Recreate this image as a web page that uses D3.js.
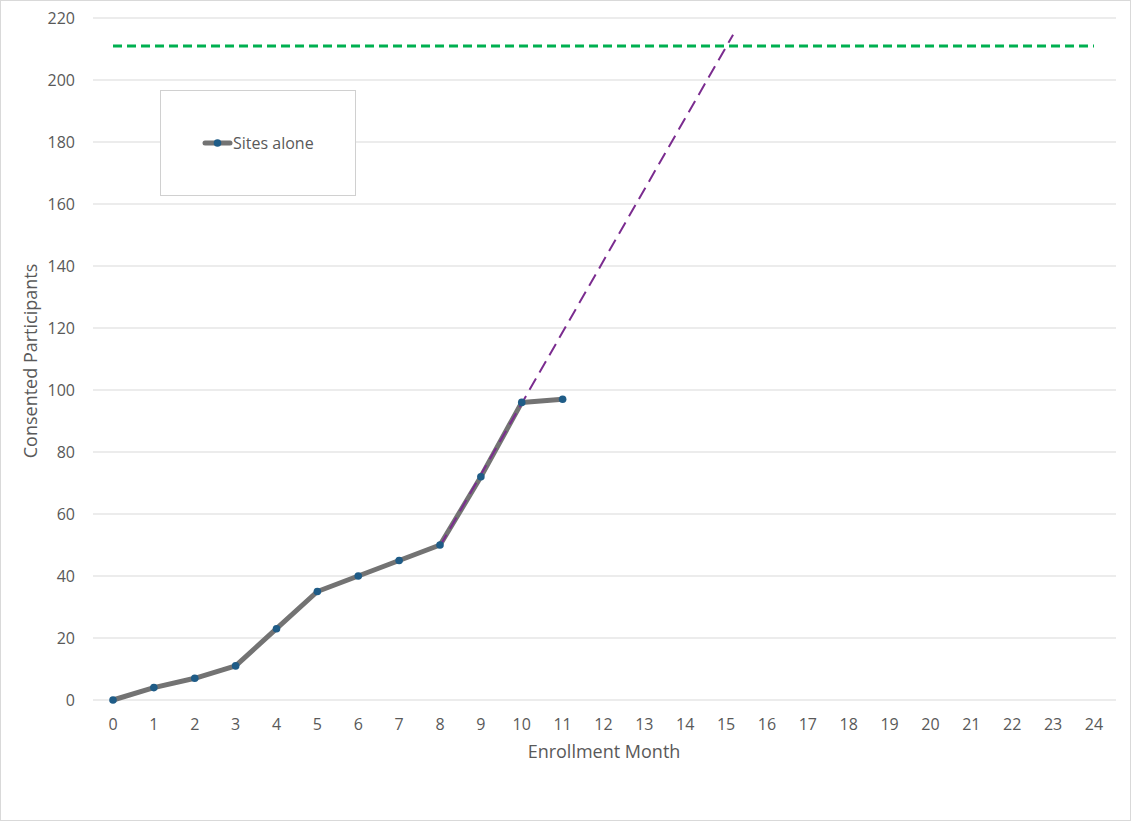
<!DOCTYPE html>
<html><head><meta charset="utf-8">
<script src="https://cdn.jsdelivr.net/npm/d3@7"></script>
<style>body{margin:0;background:#fff;}svg{display:block;font-family:"Open Sans","Liberation Sans",sans-serif;}</style>
</head><body>
<svg id="c" width="1131" height="821"></svg>
<script>
const months = d3.range(0, 25);
const sitesAlone = [0, 4, 7, 11, 23, 35, 40, 45, 50, 72, 96, 97];
const targetValue = 211;
const trendMonths = [8, 15.17];
const trendValues = [49.67, 214.6];
const yTicks = [0, 20, 40, 60, 80, 100, 120, 140, 160, 180, 200, 220];

const svg = d3.select("#c");
svg.append("rect").attr("x",0.5).attr("y",0.5).attr("width",1130).attr("height",820)
  .attr("fill","#fff").attr("stroke","#d9d9d9");

const x = d3.scaleLinear().domain([0, 24]).range([113, 1094]);
const y = d3.scaleLinear().domain([0, 220]).range([700, 18]);
const gridX0 = 93, gridX1 = 1116;

svg.append("g").selectAll("line").data(yTicks).join("line")
  .attr("x1", gridX0).attr("x2", gridX1)
  .attr("y1", d => y(d)).attr("y2", d => y(d))
  .attr("stroke", "#d9d9d9").attr("stroke-width", 1);

svg.append("g").selectAll("text").data(yTicks).join("text")
  .attr("x", 75).attr("y", d => y(d)).attr("dy", "0.35em")
  .attr("text-anchor", "end").attr("fill", "#595959").attr("font-size", 16)
  .text(d => d);

svg.append("g").selectAll("text").data(months).join("text")
  .attr("x", d => x(d)).attr("y", 724).attr("dy", "0.35em")
  .attr("text-anchor", "middle").attr("fill", "#595959").attr("font-size", 16)
  .text(d => d);

svg.append("text").attr("x", 604).attr("y", 758).attr("text-anchor", "middle")
  .attr("fill", "#595959").attr("font-size", 18).text("Enrollment Month");
svg.append("text").attr("transform", "translate(37,361) rotate(-90)").attr("text-anchor", "middle")
  .attr("fill", "#595959").attr("font-size", 18).text("Consented Participants");

svg.append("line").attr("x1", x(0)).attr("x2", x(24))
  .attr("y1", y(targetValue)).attr("y2", y(targetValue))
  .attr("stroke", "#00B050").attr("stroke-width", 3).attr("stroke-dasharray", "9,5");

const line = d3.line().x((d, i) => x(i)).y(d => y(d));
svg.append("path").datum(sitesAlone).attr("d", line)
  .attr("fill", "none").attr("stroke", "#737373").attr("stroke-width", 5)
  .attr("stroke-linejoin", "round").attr("stroke-linecap", "round");

const tline = d3.line().x(d => x(d[0])).y(d => y(d[1]));
svg.append("path").datum(d3.zip(trendMonths, trendValues)).attr("d", tline)
  .attr("fill", "none").attr("stroke", "#7B2C8F").attr("stroke-width", 2)
  .attr("stroke-dasharray", "13,7");

svg.append("g").selectAll("circle").data(sitesAlone).join("circle")
  .attr("cx", (d, i) => x(i)).attr("cy", d => y(d)).attr("r", 3.8)
  .attr("fill", "#1F5C87");

svg.append("rect").attr("x", 160.5).attr("y", 90.5).attr("width", 195).attr("height", 105)
  .attr("fill", "#fff").attr("stroke", "#d0d0d0");
svg.append("line").attr("x1", 205).attr("x2", 230).attr("y1", 143).attr("y2", 143)
  .attr("stroke", "#737373").attr("stroke-width", 5).attr("stroke-linecap", "round");
svg.append("circle").attr("cx", 217.5).attr("cy", 143).attr("r", 3.8).attr("fill", "#1F5C87");
svg.append("text").attr("x", 233).attr("y", 143).attr("dy", "0.35em")
  .attr("fill", "#595959").attr("font-size", 16).text("Sites alone");
</script>
</body></html>
